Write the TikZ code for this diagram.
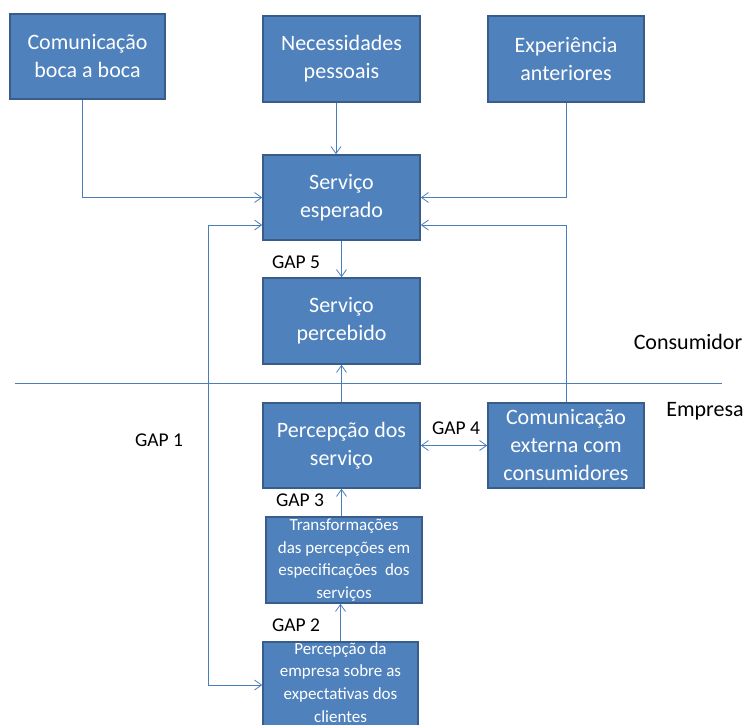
\documentclass[tikz,border=0pt]{standalone}
\usepackage{fontspec}
\setmainfont{Carlito}
\usetikzlibrary{arrows.meta}
\definecolor{boxfill}{HTML}{4F81BD}
\definecolor{boxdraw}{HTML}{385D8A}
\definecolor{linec}{HTML}{4A7EBB}
\tikzset{
  box/.style={draw=boxdraw, line width=1.6pt, fill=boxfill, text=white, align=center, inner sep=0pt,
    font=\fontsize{22}{28}\selectfont},
  smalltxt/.style={text=white, align=center, inner sep=0pt, font=\fontsize{17}{22.7}\selectfont},
  conn/.style={draw=linec, line width=0.8pt, -{Straight Barb[length=7pt,width=10pt]}},
  plain/.style={draw=linec, line width=0.8pt},
  gap/.style={inner sep=0pt, font=\fontsize{19.5}{22}\selectfont},
  side/.style={inner sep=0pt, font=\fontsize{22}{26}\selectfont},
}
\begin{document}
\begin{tikzpicture}[x=1pt,y=-1pt]
\useasboundingbox (0,0) rectangle (747,725);
\clip (0,0) rectangle (747,725);
% boxes
\node[box, minimum width=155pt, minimum height=85pt] (boca) at (87.5,56.5) {Comunicação\\boca a boca};
\node[box, minimum width=157pt, minimum height=86pt] (necess) at (341.5,59) {Necessidades\\pessoais};
\node[box, minimum width=156pt, minimum height=86pt] (exper) at (566,59) {Experiência\\anteriores};
\node[box, minimum width=157pt, minimum height=85pt] (esper) at (341.5,197.5) {Serviço\\esperado};
\node[box, minimum width=157pt, minimum height=86pt] (perceb) at (341.5,321) {Serviço\\percebido};
\node[box, minimum width=157pt, minimum height=85pt] (percserv) at (341.5,445.5) {Percepção dos\\serviço};
\node[box, minimum width=156pt, minimum height=85pt] (comext) at (566,445.5) {Comunicação\\externa com\\consumidores};
\node[box, minimum width=156pt, minimum height=86pt, font=\fontsize{17}{22.7}\selectfont] (transf) at (344,560) {Transformações\\das percepções em\\especificações~ dos\\serviços};
\node[box, minimum width=155pt, minimum height=103pt] (bottom) at (340.5,693.5) {};
\node[smalltxt, anchor=north] (btxt) at (340.5,642) {Percepção da\\empresa sobre as\\expectativas dos\\clientes};
% divider
\coordinate (divL) at (15,383);
\coordinate (divR) at (722,383);
\draw[plain] (divL) -- (divR);
% labels
\node[side] (cons) at (688,342) {Consumidor};
\node[side] (empr) at (705,411) {Empresa};
\node[gap] (g5) at (296,262) {GAP 5};
\node[gap] (g4) at (456,428) {GAP 4};
\node[gap] (g3) at (300,500) {GAP 3};
\node[gap] (g2) at (296,625) {GAP 2};
\node[gap] (g1) at (159,440) {GAP 1};
% connectors
\draw[conn] ([xshift=-5.5pt]boca.south) |- (esper.west);
\draw[conn] ([xshift=-5.5pt]necess.south) -- ([xshift=-5.5pt]esper.north);
\draw[conn] (exper.south) |- (esper.east);
\draw[conn] (comext.north) |- ([yshift=-27.5pt]esper.east);
\coordinate (g1a) at (208,225);
\coordinate (g1b) at (208,685);
\draw[plain, {Straight Barb[length=7pt,width=10pt]}-{Straight Barb[length=7pt,width=10pt]}] ([yshift=-27.5pt]esper.west) -- (g1a) -- (g1b) -- ([yshift=8.5pt]bottom.west);
\draw[conn] (esper.south) -- (perceb.north);
\draw[conn] (percserv.north) -- (perceb.south);
\draw[conn] (transf.north -| percserv.south) -- (percserv.south);
\draw[conn] (bottom.north) -- (bottom.north |- transf.south);
\draw[plain, {Straight Barb[length=7pt,width=10pt]}-{Straight Barb[length=7pt,width=10pt]}] (percserv.east) -- (comext.west);
\end{tikzpicture}
\end{document}
